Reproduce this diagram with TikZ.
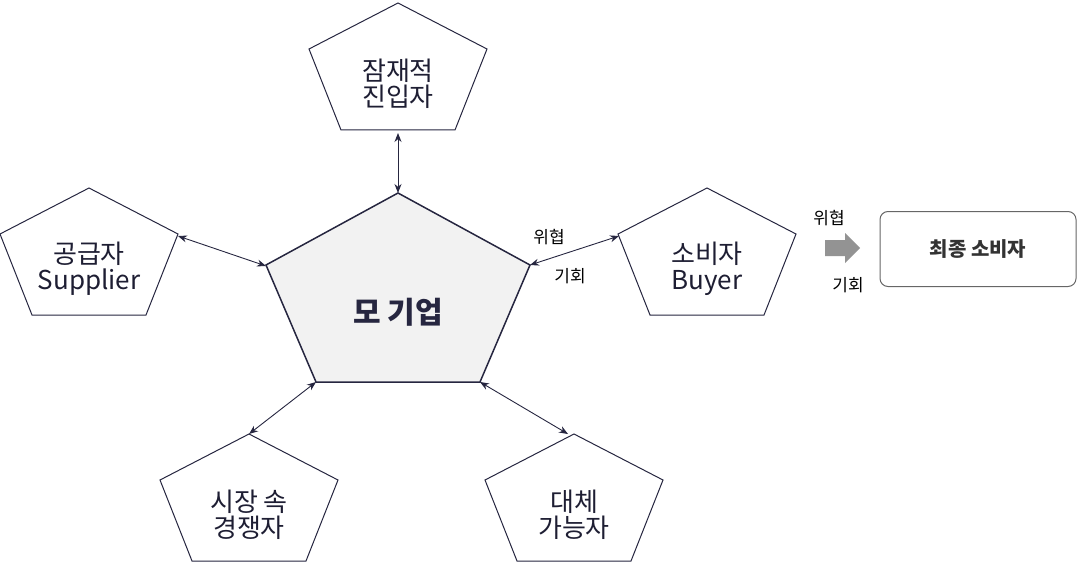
\documentclass[tikz,border=0pt]{standalone}
\usepackage{fontspec}
\setmainfont{Noto Sans CJK KR}
\usetikzlibrary{arrows.meta}
\definecolor{navy}{HTML}{262640}
\definecolor{ltg}{HTML}{F2F2F2}
\tikzset{pent/.style={draw=navy,line width=1pt,fill=white},
 conn/.style={navy,line width=0.9pt,{Stealth[length=9pt,width=7pt]}-{Stealth[length=9pt,width=7pt]}},
 lbl/.style={font=\fontsize{26}{31}\selectfont,align=center,text=navy!80!black},
 sm/.style={font=\fontsize{17}{20}\selectfont,text=black}}
\begin{document}
\begin{tikzpicture}[x=1pt,y=-1pt]
\useasboundingbox (0,0) rectangle (1078,567);
% center
\draw[draw=navy,line width=1.5pt,fill=ltg] (398,193)--(530,265)--(480,382)--(316,382)--(266,265)--cycle;
\node[font=\fontsize{30}{35}\selectfont\bfseries,text=navy] (c) at (398,312) {모 기업};
% small pentagons
\newcommand{\mypent}[3]{\draw[pent] (#1,#2)--++(89,46)--++(-32,81)--++(-114,0)--++(-32,-81)--cycle;
 \node[lbl] at (#1,#2+81) {#3};}
\mypent{398}{3}{잠재적\\[-5pt]진입자}
\mypent{89}{188}{공급자\\[-5pt]Supplier}
\mypent{707}{188}{소비자\\[-5pt]Buyer}
\mypent{249}{434}{시장 속\\[-5pt]경쟁자}
\mypent{574}{434}{대체\\[-5pt]가능자}
\coordinate (t1) at (398,133); \coordinate (t2) at (398,193);
\coordinate (s1) at (178,236); \coordinate (s2) at (266,266);
\coordinate (b1) at (619,236); \coordinate (b2) at (530,265);
\coordinate (l1) at (316,382); \coordinate (l2) at (249,434);
\coordinate (r1) at (480,382); \coordinate (r2) at (568,434);
\draw[conn] (t1)--(t2);
\draw[conn] (s1)--(s2);
\draw[conn] (b1)--(b2);
\draw[conn] (l1)--(l2);
\draw[conn] (r1)--(r2);
\node[sm] at (549,237) {위협};
\node[sm] at (570,276) {기회};
% block arrow
\fill[gray!85] (825,240)--(845,240)--(845,233)--(860,248)--(845,263)--(845,256)--(825,256)--cycle;
\node[sm] at (829,218) {위협};
\node[sm] at (848,285) {기회};
\node[draw=gray!80!black,line width=1pt,rounded corners=8pt,minimum width=196pt,minimum height=75pt,font=\fontsize{20}{24}\selectfont\bfseries,text=black!80] (fc) at (978,249) {최종 소비자};
\end{tikzpicture}
\end{document}
